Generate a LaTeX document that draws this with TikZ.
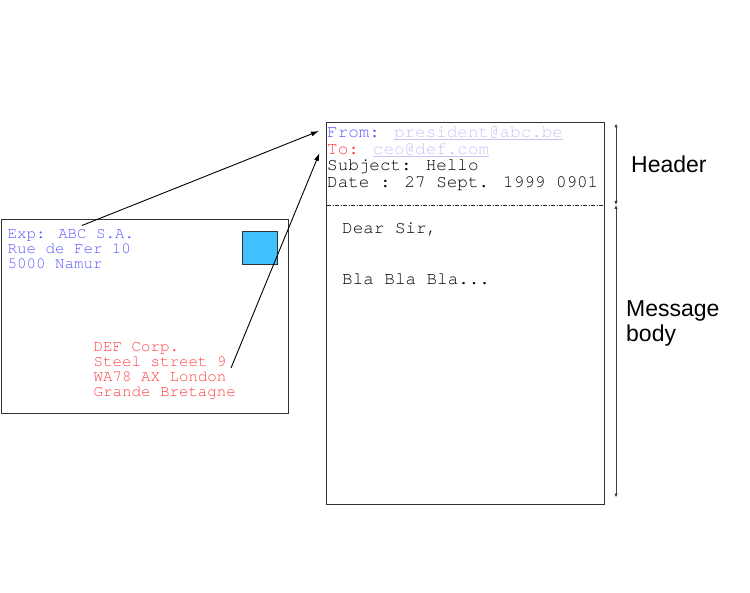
\documentclass[tikz,border=0pt]{standalone}
\usepackage{fontspec}
\setmainfont{Liberation Sans}
\newfontfamily\mono{texgyrecursor-regular.otf}
\usetikzlibrary{arrows.meta}
\definecolor{sendblue}{HTML}{5A5AFF}
\definecolor{lightblue}{HTML}{C4C4FF}
\definecolor{rcvred}{HTML}{FF4040}
\definecolor{stampblue}{HTML}{40C0FF}
\newcommand{\ulink}[1]{\setbox0\hbox{#1}\rlap{\rule[-2.2pt]{\wd0}{0.8pt}}\box0}
\begin{document}
\begin{tikzpicture}[x=1pt,y=-1pt,
  box/.style={draw=black!80, line width=1pt},
  envtext/.style={anchor=base west, inner sep=0pt, font=\mono\fontsize{15.8}{16}\selectfont},
  msgtext/.style={anchor=base west, inner sep=0pt, font=\mono\fontsize{17.6}{18}\selectfont},
  lbl/.style={anchor=base west, inner sep=0pt, font=\fontsize{23}{24}\selectfont},
  link/.style={draw=black, line width=0.9pt, -{Latex[length=8pt,width=5pt]}},
  span/.style={draw=black!75, line width=0.9pt, {Latex[length=4pt,width=3.5pt]}-{Latex[length=4pt,width=3.5pt]}}]
\useasboundingbox (0,0) rectangle (750,593);
% envelope
\draw[box] (1,220) rectangle (288,414);
\node[draw=black!80, fill=stampblue, line width=0.9pt, minimum width=35pt, minimum height=33pt, inner sep=0pt] (stamp) at (259.5,247.5) {};
\node[envtext, text=sendblue] (exp1) at (7.5,239) {Exp: ABC S.A.};
\node[envtext, text=sendblue] (exp2) at (7.5,254) {Rue de Fer 10};
\node[envtext, text=sendblue] (exp3) at (7.5,269) {5000 Namur};
\node[envtext, text=rcvred] (dst1) at (93.5,352) {DEF Corp.};
\node[envtext, text=rcvred] (dst2) at (93.5,367) {Steel street 9};
\node[envtext, text=rcvred] (dst3) at (93.5,382) {WA78 AX London};
\node[envtext, text=rcvred] (dst4) at (93.5,397) {Grande Bretagne};
% message
\draw[box] (326,123) rectangle (604,504);
\coordinate (dl) at (327,205);
\coordinate (dr) at (603,205);
\draw[black!85, line width=0.8pt, dash pattern=on 4pt off 1.5pt on 1pt off 1.5pt] (dl) -- (dr);
\node[msgtext] (from) at (327,138) {\textcolor{sendblue}{From:} \textcolor{lightblue}{\ulink{president@abc.be}}};
\node[msgtext] (to) at (327,154.5) {\textcolor{rcvred}{To:} \textcolor{lightblue}{\ulink{ceo@def.com}}};
\node[msgtext] (subj) at (327,171) {Subject: Hello};
\node[msgtext] (date) at (327,188) {Date : 27 Sept. 1999 0901};
\node[msgtext] (dear) at (342,234) {Dear Sir,};
\node[msgtext] (bla) at (342,285) {Bla Bla Bla...};
% connectors
\coordinate (s1) at (82,225.5);
\coordinate (e1) at (319,131);
\coordinate (s2) at (231,368);
\coordinate (e2) at (319.5,153);
\draw[link] (s1) -- (e1);
\draw[link] (s2) -- (e2);
% spans
\coordinate (a1) at (616,123.5);
\coordinate (a2) at (616,205);
\coordinate (a3) at (616,497.5);
\draw[span] (a1) -- (a2);
\draw[span] (a2) -- (a3);
\node[lbl] (hdr) at (631,173) {Header};
\node[lbl] (mb1) at (626,317) {Message};
\node[lbl] (mb2) at (626,342) {body};
\end{tikzpicture}
\end{document}
